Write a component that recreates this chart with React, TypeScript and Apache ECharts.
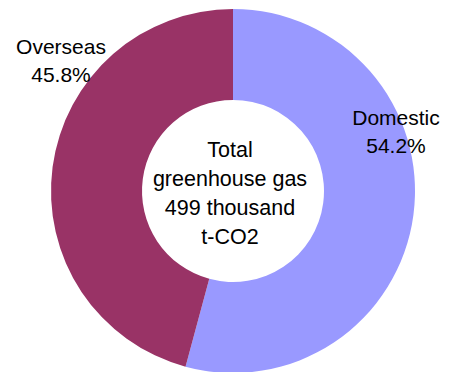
import React, { useEffect, useRef } from "react";
import * as echarts from "echarts";

// Shares of total greenhouse gas emissions (%)
const categories = ["Domestic", "Overseas"];
const shares = [54.2, 45.8];
const colors = ["#9999FF", "#993366"];
const totalThousandTCO2 = 499;

// Label anchor points (block centers) for each slice label
const labelAnchors = [
  { x: 396, y: 131 },
  { x: 61, y: 60 },
];

const FONT = "'Liberation Sans', Arial, Helvetica, sans-serif";

export default function App() {
  const ref = useRef<HTMLDivElement>(null);

  useEffect(() => {
    document.body.style.margin = "0";
    if (!ref.current) return;
    const chart = echarts.init(ref.current, undefined, { renderer: "svg" });
    chart.setOption({
      animation: false,
      backgroundColor: "#ffffff",
      graphic: [
        {
          type: "text",
          x: 230,
          y: 193,
          style: {
            text: `Total\ngreenhouse gas\n${totalThousandTCO2} thousand\nt-CO2`,
            font: `21.5px ${FONT}`,
            fill: "#000000",
            align: "center",
            verticalAlign: "middle",
            lineHeight: 29,
          },
          z: 10,
        },
      ],
      series: [
        {
          type: "pie",
          center: [233, 191],
          radius: [91, 182],
          startAngle: 90,
          clockwise: true,
          silent: true,
          avoidLabelOverlap: false,
          data: categories.map((name, i) => ({
            name,
            value: shares[i],
            itemStyle: { color: colors[i] },
          })),
          label: {
            show: true,
            position: "inside",
            formatter: (p: any) => `${p.name}\n${p.value.toFixed(1)}%`,
            fontFamily: FONT,
            fontSize: 21,
            lineHeight: 28,
            color: "#000000",
            align: "center",
          },
          labelLine: { show: false },
          labelLayout: (params: any) => {
            const a = labelAnchors[params.dataIndex];
            return {
              x: a.x,
              y: a.y,
              align: "center",
              verticalAlign: "middle",
            };
          },
        },
      ],
    });
    return () => chart.dispose();
  }, []);

  return <div ref={ref} style={{ width: 451, height: 372 }} />;
}
